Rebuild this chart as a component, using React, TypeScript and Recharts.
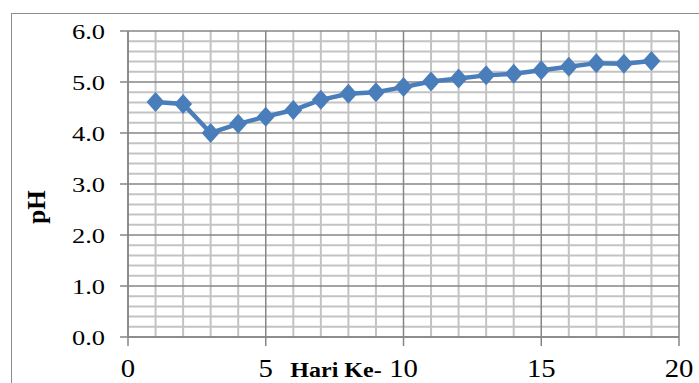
import { LineChart, Line, XAxis, YAxis, ReferenceLine } from "recharts";

const days = [1, 2, 3, 4, 5, 6, 7, 8, 9, 10, 11, 12, 13, 14, 15, 16, 17, 18, 19];
const phValues = [
  4.61, 4.57, 4.0, 4.18, 4.32, 4.45, 4.65, 4.77, 4.8, 4.9, 5.01, 5.07, 5.13,
  5.16, 5.23, 5.3, 5.37, 5.36, 5.41,
];

const xTicks = [0, 5, 10, 15, 20];
const yTicks = [0, 1, 2, 3, 4, 5, 6];
const xMinor = [1, 2, 3, 4, 6, 7, 8, 9, 11, 12, 13, 14, 16, 17, 18, 19];
const yMinor = [
  0.2, 0.4, 0.6, 0.8, 1.2, 1.4, 1.6, 1.8, 2.2, 2.4, 2.6, 2.8, 3.2, 3.4, 3.6,
  3.8, 4.2, 4.4, 4.6, 4.8, 5.2, 5.4, 5.6, 5.8,
];

const data = days.map((day, i) => ({ day, ph: phValues[i] }));

const FONT = "'Liberation Serif', 'Times New Roman', serif";
const BLUE = "#4a7ebb";
const MAJOR = "#868686";
const MINOR = "#c3c3c3";

const YTick = (props: any) => {
  const { x, y, payload } = props;
  return (
    <g transform={`translate(${x},${y}) scale(1.2,1)`}>
      <text textAnchor="end" dy={7.5} fontSize={22} fontFamily={FONT} fill="#000">
        {Number(payload.value).toFixed(1)}
      </text>
    </g>
  );
};

const XTick = (props: any) => {
  const { x, payload } = props;
  return (
    <g transform={`translate(${x},377) scale(1.15,1)`}>
      <text textAnchor="middle" fontSize={25} fontFamily={FONT} fill="#000">
        {payload.value}
      </text>
    </g>
  );
};

const Diamond = (props: any) => {
  const { cx, cy, index } = props;
  return (
    <path
      key={index}
      d={`M${cx},${cy - 10} L${cx + 9},${cy} L${cx},${cy + 10} L${cx - 9},${cy} Z`}
      fill={BLUE}
    />
  );
};

export default function App() {
  return (
    <div
      style={{
        position: "absolute",
        left: 0,
        top: 0,
        width: 699,
        height: 383,
        overflow: "hidden",
        background: "#fff",
      }}
    >
      {/* chart area border */}
      <div
        style={{
          position: "absolute",
          left: 11,
          top: 13,
          width: 800,
          height: 500,
          border: "1.5px solid #8c8c8c",
        }}
      />
      <div style={{ position: "absolute", left: 0, top: 0 }}>
        <LineChart
          width={699}
          height={383}
          data={data}
          margin={{ top: 31, right: 20, left: 0, bottom: 0 }}
        >
          <XAxis
            dataKey="day"
            type="number"
            domain={[0, 20]}
            ticks={xTicks}
            height={46}
            tickSize={9}
            tick={<XTick />}
            axisLine={{ stroke: MAJOR, strokeWidth: 1.5 }}
            tickLine={{ stroke: MAJOR, strokeWidth: 1.5 }}
            label={{
              content: () => (
                <g transform="translate(336,377) scale(1.2,1)">
                  <text
                    textAnchor="middle"
                    fontSize={20}
                    fontWeight="bold"
                    fontFamily={FONT}
                    fill="#000"
                  >
                    Hari Ke-
                  </text>
                </g>
              ),
            }}
          />
          <YAxis
            type="number"
            domain={[0, 6]}
            ticks={yTicks}
            width={128}
            tickSize={8}
            tickMargin={15}
            tick={<YTick />}
            axisLine={{ stroke: MAJOR, strokeWidth: 1.5 }}
            tickLine={{ stroke: MAJOR, strokeWidth: 1.5 }}
            label={{
              content: () => (
                <text
                  x={45}
                  y={207}
                  transform="rotate(-90 45 207)"
                  textAnchor="middle"
                  fontSize={25}
                  fontWeight="bold"
                  fontFamily={FONT}
                  fill="#000"
                >
                  pH
                </text>
              ),
            }}
          />
          {xMinor.map((v) => (
            <ReferenceLine key={`xm${v}`} x={v} stroke={MINOR} strokeWidth={2} />
          ))}
          {yMinor.map((v) => (
            <ReferenceLine key={`ym${v}`} y={v} stroke={MINOR} strokeWidth={2} />
          ))}
          {xTicks.map((v) => (
            <ReferenceLine key={`xM${v}`} x={v} stroke={MAJOR} strokeWidth={1.5} />
          ))}
          {yTicks.map((v) => (
            <ReferenceLine key={`yM${v}`} y={v} stroke={MAJOR} strokeWidth={1.5} />
          ))}
          <Line
            type="linear"
            dataKey="ph"
            stroke={BLUE}
            strokeWidth={4.5}
            dot={<Diamond />}
            activeDot={false}
            isAnimationActive={false}
          />
        </LineChart>
      </div>
    </div>
  );
}
